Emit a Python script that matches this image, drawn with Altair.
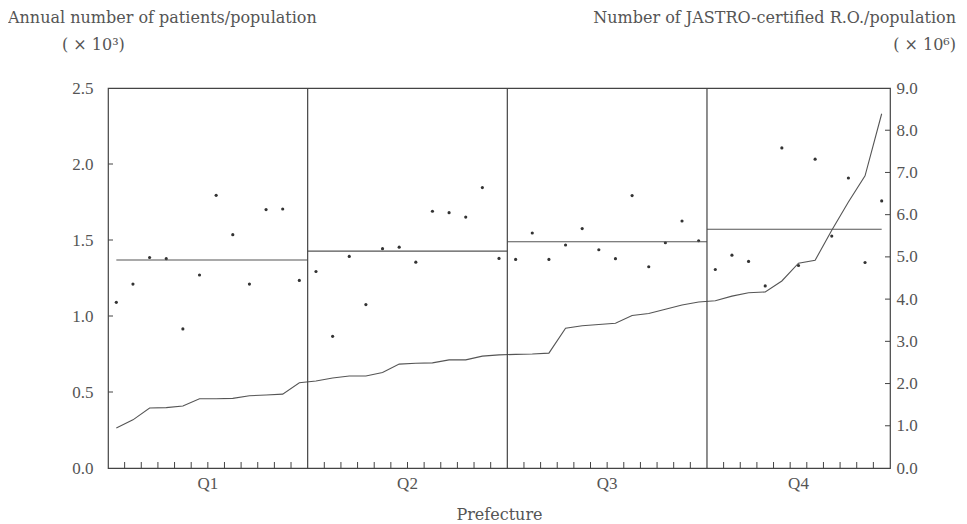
import altair as alt
import pandas as pd

# ---------------- data ----------------
quartiles = ["Q1", "Q2", "Q3", "Q4"]
quartile_sizes = [12, 12, 12, 11]

# annual number of patients / population (x10^3), prefectures sorted by R.O. density
patients = [
    1.09, 1.21, 1.385, 1.377, 0.915, 1.27, 1.794, 1.535, 1.21, 1.70, 1.704, 1.234,
    1.293, 0.866, 1.392, 1.075, 1.443, 1.453, 1.354, 1.689, 1.68, 1.651, 1.845, 1.379,
    1.372, 1.546, 1.372, 1.467, 1.575, 1.436, 1.377, 1.792, 1.324, 1.482, 1.625, 1.495,
    1.306, 1.40, 1.359, 1.198, 2.106, 1.332, 2.032, 1.526, 1.908, 1.352, 1.757,
]

# number of JASTRO-certified R.O. / population (x10^6)
ro = [
    0.95, 1.14, 1.42, 1.43, 1.47, 1.64, 1.64, 1.65, 1.71, 1.73, 1.75, 2.02,
    2.06, 2.13, 2.18, 2.18, 2.26, 2.46, 2.48, 2.49, 2.56, 2.56, 2.65, 2.68,
    2.69, 2.70, 2.72, 3.31, 3.37, 3.40, 3.43, 3.61, 3.66, 3.76, 3.86, 3.93,
    3.96, 4.07, 4.15, 4.17, 4.43, 4.85, 4.92, 5.63, 6.30, 6.92, 8.39,
]

left_ticks = [0.0, 0.5, 1.0, 1.5, 2.0, 2.5]
right_ticks = [0.0, 1.0, 2.0, 3.0, 4.0, 5.0, 6.0, 7.0, 8.0, 9.0]

left_title = "Annual number of patients/population"
left_unit = "( × 10³)"
right_title = "Number of JASTRO-certified R.O./population"
right_unit = "( × 10⁶)"
x_title = "Prefecture"

# ---------------- derived tables ----------------
n = len(patients)
quartile_col = sum([[q] * k for q, k in zip(quartiles, quartile_sizes)], [])
df = pd.DataFrame({
    "idx": list(range(n)),
    "pos": [i + 0.5 for i in range(n)],
    "patients": patients,
    "ro": ro,
    "quartile": quartile_col,
})

bounds = [0]
for k in quartile_sizes:
    bounds.append(bounds[-1] + k)
first_c, last_c = df["pos"].min(), df["pos"].max()
mean_df = pd.DataFrame({
    "quartile": quartiles,
    "start": [max(bounds[i], first_c) for i in range(4)],
    "end": [min(bounds[i + 1], last_c) for i in range(4)],
    "center": [(bounds[i] + bounds[i + 1]) / 2 for i in range(4)],
    "mean": [df.loc[df.quartile == q, "patients"].mean() for q in quartiles],
})
div_df = pd.DataFrame({"b": bounds[1:-1]})
tick_df = pd.DataFrame({"t": [t for t in range(1, n) if t not in bounds]})
lt_df = pd.DataFrame({"v": left_ticks[1:-1]})
rt_df = pd.DataFrame({"v": right_ticks[1:-1]})

# ---------------- styling ----------------
W, H = 782, 380
INK = "#444444"
TXT = "#555555"
SERIF = "Liberation Serif"
WIDE = "DejaVu Serif"

xs = alt.Scale(domain=[0, n], nice=False, zero=False)
ysl = alt.Scale(domain=[0, 2.5], nice=False, zero=False)
ysr = alt.Scale(domain=[0, 9.0], nice=False, zero=False)

x_axis = alt.Axis(labels=False, ticks=False, domain=False, grid=False,
                  title=x_title, titleFont=WIDE, titleFontSize=16,
                  titleFontWeight="normal", titleColor=TXT, titlePadding=38)
left_axis = alt.Axis(values=left_ticks, format=".1f", orient="left", ticks=False,
                     domain=False, grid=False, labelFont=SERIF, labelFontSize=17,
                     labelColor=TXT, labelPadding=15, title=None)
right_axis = alt.Axis(values=right_ticks, format=".1f", orient="right", ticks=False,
                      domain=False, grid=False, labelFont=SERIF, labelFontSize=17,
                      labelColor=TXT, labelPadding=6, title=None)

base = alt.Chart(df)

points = base.mark_circle(size=10, color="#333333", opacity=1).encode(
    x=alt.X("pos:Q", scale=xs, axis=x_axis),
    y=alt.Y("patients:Q", scale=ysl, axis=left_axis),
)

ro_line = base.mark_line(color="#555555", strokeWidth=1.1).encode(
    x=alt.X("pos:Q", scale=xs, axis=x_axis),
    y=alt.Y("ro:Q", scale=ysr, axis=right_axis),
)

means = alt.Chart(mean_df).mark_rule(color="#555555", strokeWidth=1.1).encode(
    x=alt.X("start:Q", scale=xs, axis=x_axis),
    x2="end:Q",
    y=alt.Y("mean:Q", scale=ysl, axis=None),
)

dividers = alt.Chart(div_df).mark_rule(color=INK, strokeWidth=1.2).encode(
    x=alt.X("b:Q", scale=xs, axis=x_axis),
    y=alt.value(0), y2=alt.value(H),
)

bottom_ticks = alt.Chart(tick_df).mark_rule(color=INK, strokeWidth=1).encode(
    x=alt.X("t:Q", scale=xs, axis=x_axis),
    y=alt.value(H), y2=alt.value(H - 6),
)

left_tk = alt.Chart(lt_df).mark_rule(color=INK, strokeWidth=1).encode(
    y=alt.Y("v:Q", scale=ysl, axis=None),
    x=alt.value(0), x2=alt.value(5),
)

right_tk = alt.Chart(rt_df).mark_rule(color=INK, strokeWidth=1).encode(
    y=alt.Y("v:Q", scale=ysr, axis=None),
    x=alt.value(W - 5), x2=alt.value(W),
)

q_labels = alt.Chart(mean_df).mark_text(font=SERIF, fontSize=17, color=TXT,
                                        baseline="middle").encode(
    x=alt.X("center:Q", scale=xs, axis=x_axis),
    y=alt.value(H + 16),
    text="quartile:N",
)


def label(txt, x, y, align):
    return alt.Chart(pd.DataFrame({"t": [txt]})).mark_text(
        font=WIDE, fontSize=16, color=TXT, align=align, baseline="middle"
    ).encode(text="t:N", x=alt.value(x), y=alt.value(y))


titles = [
    label(left_title, -100, -70, "left"),
    label(left_unit, -46, -43, "left"),
    label(right_title, W + 66, -70, "right"),
    label(right_unit, W + 66, -43, "right"),
]

chart = alt.layer(
    points, means, ro_line, dividers, bottom_ticks, left_tk, right_tk, q_labels, *titles
).resolve_scale(y="independent").properties(
    width=W, height=H,
    autosize=alt.AutoSizeParams(type="none"),
    padding={"left": 100, "top": 80, "right": 68, "bottom": 54},
    background="white",
).configure_view(stroke=INK, strokeWidth=1.2)

chart.save("out.html", embed_options={"renderer": "svg", "actions": False})
